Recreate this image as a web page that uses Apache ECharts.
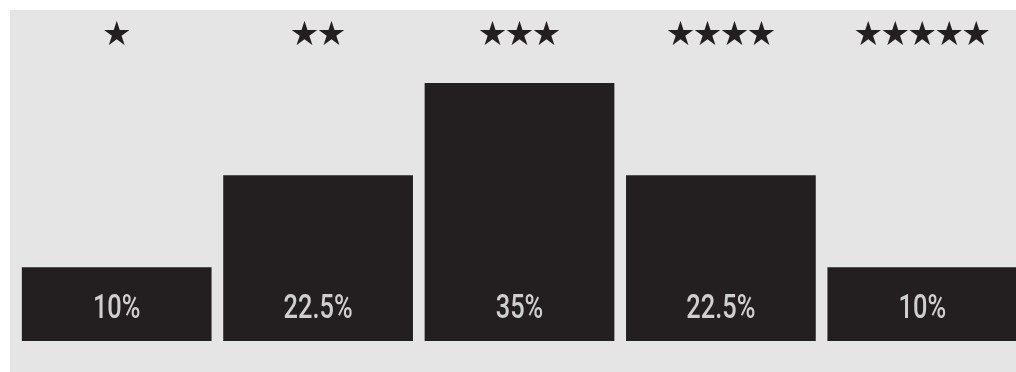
<!DOCTYPE html>
<html><head><meta charset="utf-8">
<script src="https://cdn.jsdelivr.net/npm/echarts@6/dist/echarts.min.js"></script>
<style>html,body{margin:0;padding:0;background:#fff}#c{width:1016px;height:372px}</style>
</head><body><div id="c"></div>
<script>
const categories = ['★', '★★', '★★★', '★★★★', '★★★★★'];
const values = [10, 22.5, 35, 22.5, 10];
const valueLabels = ['10%', '22.5%', '35%', '22.5%', '10%'];

const chart = echarts.init(document.getElementById('c'));
chart.setOption({
  backgroundColor: '#ffffff',
  animation: false,
  graphic: [{
    type: 'rect', z: -10, silent: true,
    shape: { x: 10, y: 10, width: 1006, height: 362 },
    style: { fill: '#e5e5e5' }
  }],
  grid: { left: 16, top: 83, width: 1007, bottom: 31, outerBoundsMode: 'none', containLabel: false },
  xAxis: {
    type: 'category', data: categories, position: 'top',
    axisLine: { show: false }, axisTick: { show: false },
    axisLabel: { color: '#231f20', fontSize: 27, margin: 37, fontFamily: 'Noto Sans CJK SC' }
  },
  yAxis: { type: 'value', min: 0, max: 35, show: false },
  series: [{
    type: 'bar', data: values, barCategoryGap: '5.8%',
    itemStyle: { color: '#231f20' }
  }, {
    type: 'custom', z: 5,
    data: values.map((v, i) => [i, v]),
    renderItem: function (params, api) {
      const base = api.coord([api.value(0), 0]);
      return {
        type: 'text',
        x: base[0], y: base[1] - 31,
        scaleX: 0.77,
        style: {
          text: valueLabels[params.dataIndex],
          font: '500 33px Roboto',
          fill: '#cfcfcf',
          align: 'center', verticalAlign: 'middle'
        }
      };
    }
  }]
});
</script></body></html>
